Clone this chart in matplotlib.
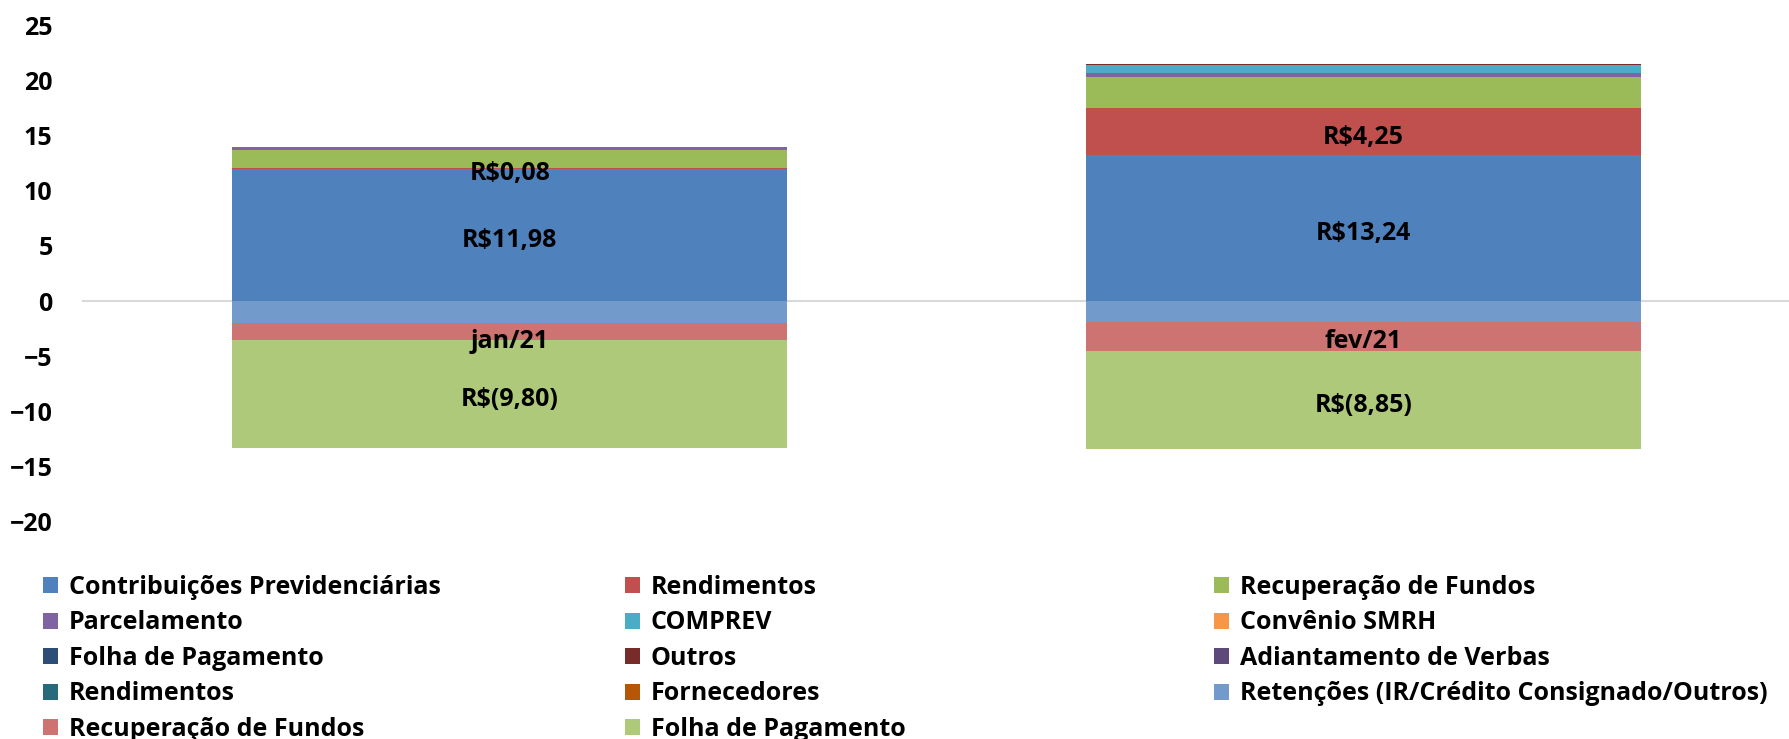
import numpy as np
import matplotlib
matplotlib.use('Agg')
import matplotlib.pyplot as plt
from matplotlib.patches import Patch

plt.rcParams['font.family'] = ['Open Sans', 'DejaVu Sans']
plt.rcParams['font.weight'] = 'bold'

# data
months = ['jan/21', 'fev/21']

series_names = ['Contribuições Previdenciárias', 'Rendimentos', 'Recuperação de Fundos',
                'Parcelamento', 'COMPREV', 'Convênio SMRH',
                'Folha de Pagamento', 'Outros', 'Adiantamento de Verbas',
                'Rendimentos', 'Fornecedores', 'Retenções (IR/Crédito Consignado/Outros)',
                'Recuperação de Fundos', 'Folha de Pagamento']

series_colors = ['#4F81BD', '#C0504D', '#9BBB59',
                 '#8064A2', '#4BACC6', '#F79646',
                 '#2C4D75', '#772C2A', '#5F497A',
                 '#276A7C', '#B65708', '#729ACA',
                 '#CD7371', '#AFC97A']

# receitas (positive) and despesas (negative), per month
contrib = [11.98, 13.24]
rend_in = [0.08, 4.25]
recup_in = [1.58, 2.80]
parcel = [0.30, 0.33]
comprev = [0.00, 0.80]
convenio = [0.05, 0.00]
folha_in = [0.00, 0.00]
outros = [0.00, 0.08]
adiant = [0.00, 0.00]
rend_out = [0.00, 0.00]
fornec = [0.00, 0.00]
retencoes = [-2.03, -1.87]
recup_out = [-1.53, -2.66]
folha_out = [-9.80, -8.85]

all_values = [contrib, rend_in, recup_in, parcel, comprev, convenio, folha_in,
              outros, adiant, rend_out, fornec, retencoes, recup_out, folha_out]

labelled = [0, 1, 13]  # series that carry data labels
FS = 18


def fmt(v):
    s = '%.2f' % abs(v)
    s = s.replace('.', ',')
    return 'R$(%s)' % s if v < 0 else 'R$%s' % s


fig = plt.figure(figsize=(17.9, 7.39), dpi=100)
ax = fig.add_axes([0.0464, 0.294, 0.9536, 0.672])

x = np.arange(len(months))
width = 0.65
pos_base = np.zeros(len(months))
neg_base = np.zeros(len(months))

for k, vals in enumerate(all_values):
    vals = np.array(vals, dtype=float)
    bottoms = np.where(vals >= 0, pos_base, neg_base)
    ax.bar(x, vals, width, bottom=bottoms, color=series_colors[k], linewidth=0)
    if k in labelled:
        for i in range(len(months)):
            if vals[i] != 0:
                ax.annotate(fmt(vals[i]), (x[i], bottoms[i] + vals[i] / 2),
                            xytext=(0, -4), textcoords='offset points',
                            ha='center', va='center', fontsize=FS, fontweight='bold', color='black')
    pos_base = np.where(vals >= 0, pos_base + vals, pos_base)
    neg_base = np.where(vals < 0, neg_base + vals, neg_base)

ax.set_xlim(-0.5, 1.5)
ax.set_ylim(-20, 25)
ax.set_yticks(np.arange(-20, 26, 5))
ax.set_xticks(x)
ax.set_xticklabels(months)

for s in ['top', 'right', 'left']:
    ax.spines[s].set_visible(False)
ax.spines['bottom'].set_position(('data', 0))
ax.spines['bottom'].set_color('#d9d9d9')
ax.spines['bottom'].set_linewidth(1.5)
ax.spines['bottom'].set_zorder(0.5)
ax.tick_params(axis='x', length=0, pad=20, labelsize=FS)
ax.tick_params(axis='y', length=0, pad=22, labelsize=FS)
for lab in ax.get_yticklabels() + ax.get_xticklabels():
    lab.set_fontweight('bold')

# legend, three columns filled row by row
col_x = [0.024, 0.349, 0.678]
for c in range(3):
    idx = list(range(c, len(series_names), 3))
    handles = [Patch(facecolor=series_colors[j]) for j in idx]
    labels = [series_names[j] for j in idx]
    fig.legend(handles, labels, loc='upper left', bbox_to_anchor=(col_x[c], 0.222),
               frameon=False, borderpad=0, borderaxespad=0, handlelength=0.6,
               handleheight=0.6, handletextpad=0.45, labelspacing=0.42,
               prop={'size': FS, 'weight': 'bold'})

fig.savefig('out.png', dpi=100)
